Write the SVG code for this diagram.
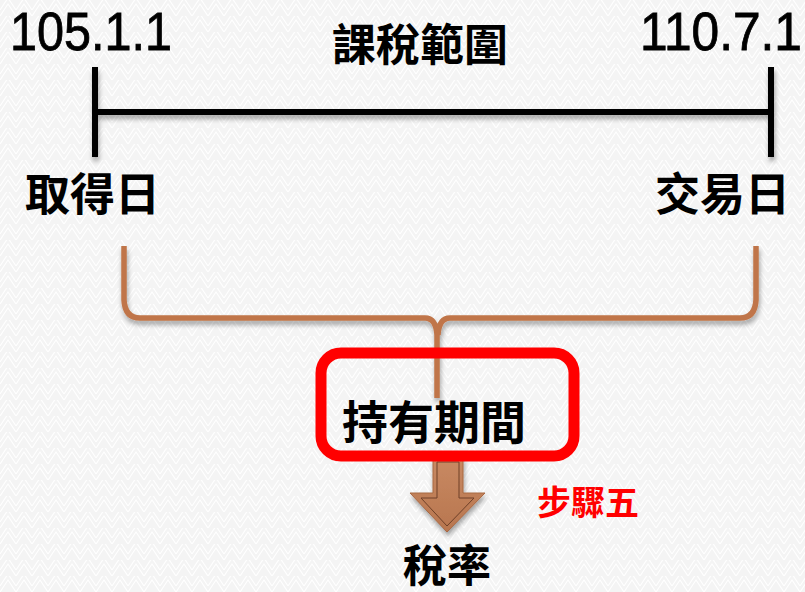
<svg xmlns="http://www.w3.org/2000/svg" width="805" height="592" viewBox="0 0 805 592">
<defs>
<pattern id="bg" width="16" height="16" patternUnits="userSpaceOnUse">
<rect width="16" height="16" fill="#f4f4f4"/>
<path d="M0,16 L8,4 L16,16 M0,10 L8,-2 L16,10" fill="none" stroke="#ffffff" stroke-width="1.2"/>
</pattern>
<filter id="sh" x="-10%" y="-10%" width="120%" height="140%">
<feGaussianBlur in="SourceAlpha" stdDeviation="2.5"/>
<feOffset dx="1" dy="4" result="b"/>
<feComponentTransfer><feFuncA type="linear" slope="0.35"/></feComponentTransfer>
<feMerge><feMergeNode/><feMergeNode in="SourceGraphic"/></feMerge>
</filter>
<linearGradient id="ag" x1="0" y1="0" x2="0" y2="1">
<stop offset="0" stop-color="#c98a63"/>
<stop offset="1" stop-color="#b8764f"/>
</linearGradient>
<style>
.num{font-family:"Liberation Sans Narrow","Liberation Sans",sans-serif;font-size:54px;fill:#000;stroke:#000;stroke-width:0.8}
.cjk{font-family:"Noto Sans CJK TC","Noto Sans CJK SC",sans-serif;font-weight:700;fill:#000}
.bar{stroke:#000;stroke-width:6;fill:none}
.brace{stroke:#c07548;stroke-width:5.5;fill:none;stroke-linejoin:round}
</style>
</defs>
<rect width="805" height="592" fill="url(#bg)"/>

<g id="timeline" filter="url(#sh)">
<line class="bar" x1="95" y1="67" x2="95" y2="157"/>
<line class="bar" x1="771" y1="67" x2="771" y2="157"/>
<line class="bar" x1="95" y1="112" x2="771" y2="112"/>
</g>

<g id="start-date"><text class="num" x="10" y="50" textLength="162" lengthAdjust="spacingAndGlyphs">105.1.1</text></g>
<g id="end-date"><text class="num" x="640" y="50" textLength="162" lengthAdjust="spacingAndGlyphs">110.7.1</text></g>
<g id="title"><text class="cjk" x="420" y="61" font-size="44" text-anchor="middle">課稅範圍</text></g>
<g id="acquire"><text class="cjk" x="25" y="211" font-size="45">取得日</text></g>
<g id="trade"><text class="cjk" x="655" y="211" font-size="45">交易日</text></g>

<g id="connectors">
<path class="brace" filter="url(#sh)" d="M124,246 L124,300 Q125,318 140,318 L425,318 Q436,318 437,335 L437,398 M756,246 L756,300 Q755,318 740,318 L450,318 Q439,318 438,335"/>
<g id="arrow" filter="url(#sh)">
<path d="M433,455 L463,455 L463,493 L485,493 L447,532 L410,493 L433,493 Z" fill="url(#ag)" stroke="#a86843" stroke-width="1"/>
<path d="M437,462 L459,462 L459,498 L474,498 L447,526 L421,498 L437,498 Z" fill="none" stroke="#6e4028" stroke-width="1"/>
</g>
</g>

<g id="holding">
<rect x="321" y="353" width="253" height="103" rx="20" fill="none" stroke="#ff0000" stroke-width="11"/>
<text class="cjk" x="342" y="439" font-size="46">持有期間</text>
</g>

<g id="step"><text class="cjk" x="537" y="515" font-size="34" style="fill:#ff0000">步驟五</text></g>
<g id="rate"><text class="cjk" x="447" y="582" font-size="44" text-anchor="middle">稅率</text></g>
</svg>
